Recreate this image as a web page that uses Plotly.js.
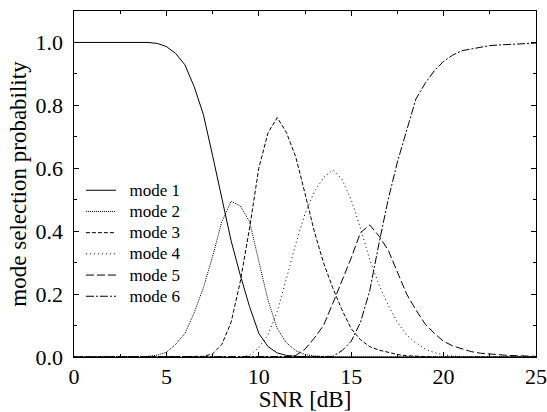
<!DOCTYPE html>
<html><head><meta charset="utf-8">
<script src="https://cdn.plot.ly/plotly-3.0.1.min.js"></script>
<style>body{margin:0;background:#fff}#c{width:547px;height:412px}</style>
</head><body><div id="c"></div>
<script>
var snr = [0,0.5,1,1.5,2,2.5,3,3.5,4,4.5,5,5.5,6,6.5,7,7.5,8,8.5,9,9.5,10,10.5,11,11.5,12,12.5,13,13.5,14,14.5,15,15.5,16,16.5,17,17.5,18,18.5,19,19.5,20,20.5,21,21.5,22,22.5,23,23.5,24,24.5,25];
var mode1 = [1,1,1,1,1,1,1,1,1,0.997,0.987,0.965,0.929,0.86,0.771,0.64,0.5,0.37,0.26,0.16,0.075,0.033,0.013,0.005,0.002,0,0,0,0,0,0,0,0,0,0,0,0,0,0,0,0,0,0,0,0,0,0,0,0,0,0];
var mode2 = [0,0,0,0,0,0,0,0,0.002,0.006,0.015,0.04,0.075,0.14,0.22,0.32,0.43,0.495,0.48,0.43,0.31,0.18,0.09,0.045,0.02,0.008,0.003,0.001,0,0,0,0,0,0,0,0,0,0,0,0,0,0,0,0,0,0,0,0,0,0,0];
var mode3 = [0,0,0,0,0,0,0,0,0,0,0,0,0,0,0.002,0.01,0.04,0.11,0.24,0.41,0.6,0.713,0.761,0.713,0.636,0.52,0.4,0.3,0.22,0.15,0.09,0.055,0.033,0.022,0.014,0.008,0.004,0.002,0.001,0,0,0,0,0,0,0,0,0,0,0,0];
var mode4 = [0,0,0,0,0,0,0,0,0,0,0,0,0,0,0,0,0,0,0,0.005,0.03,0.07,0.145,0.25,0.36,0.455,0.525,0.57,0.595,0.565,0.5,0.41,0.31,0.23,0.165,0.11,0.07,0.045,0.025,0.014,0.007,0.003,0.001,0,0,0,0,0,0,0,0];
var mode5 = [0,0,0,0,0,0,0,0,0,0,0,0,0,0,0,0,0,0,0,0,0,0,0,0,0.005,0.025,0.06,0.1,0.17,0.24,0.315,0.395,0.42,0.385,0.34,0.27,0.2,0.15,0.105,0.075,0.05,0.035,0.025,0.017,0.012,0.009,0.007,0.005,0.004,0.003,0.002];
var mode6 = [0,0,0,0,0,0,0,0,0,0,0,0,0,0,0,0,0,0,0,0,0,0,0,0,0,0,0,0,0.002,0.02,0.05,0.11,0.21,0.36,0.5,0.62,0.72,0.82,0.87,0.91,0.94,0.96,0.974,0.98,0.986,0.99,0.992,0.994,0.996,0.997,0.998];
var names = ['mode 1','mode 2','mode 3','mode 4','mode 5','mode 6'];
var series = [mode1,mode2,mode3,mode4,mode5,mode6];
var dashes = ['solid','1px,1px','4px,2px','1px,3px','8px,3px','8px,2px,2px,2px'];
var traces = series.map(function(s,i){
  return {x:snr, y:s, name:'<span style="font-size:17px">\u00a0\u00a0' + names[i] + '</span>', type:'scatter', mode:'lines',
    line:{color:'#000', width:1, dash:dashes[i]}};
});
var font = 'Liberation Serif, Times New Roman, serif';
var layout = {
  width:547, height:412,
  margin:{l:74, r:11, t:11, b:55},
  paper_bgcolor:'#fff', plot_bgcolor:'#fff',
  font:{family:font, color:'#000', size:20},
  showlegend:true,
  legend:{x:0.015, y:0.527, xanchor:'left', yanchor:'top', bgcolor:'rgba(0,0,0,0)',
    font:{family:font, size:14}, itemwidth:30, tracegroupgap:0},
  xaxis:{range:[0,25], dtick:5, tick0:0, ticks:'inside', ticklen:5, tickcolor:'#000',
    showline:true, linecolor:'#000', linewidth:1, mirror:'allticks', showgrid:false, zeroline:false,
    minor:{dtick:2.5, ticks:'inside', ticklen:3, tickcolor:'#000'},
    tickfont:{size:22, family:font}, ticklabeloverflow:'allow',
    title:{text:'SNR [dB]', font:{size:23, family:font}, standoff:2}},
  yaxis:{range:[0,1.1], dtick:0.2, tick0:0, tickformat:'.1f', ticksuffix:'\u00a0', ticks:'inside', ticklen:5, tickcolor:'#000',
    showline:true, linecolor:'#000', linewidth:1, mirror:'allticks', showgrid:false, zeroline:false,
    minor:{dtick:0.1, ticks:'inside', ticklen:3, tickcolor:'#000'},
    tickfont:{size:22, family:font},
    title:{text:'mode selection probability', font:{size:23, family:font}, standoff:2}}
};
Plotly.newPlot('c', traces, layout, {displayModeBar:false, staticPlot:true});
</script></body></html>
